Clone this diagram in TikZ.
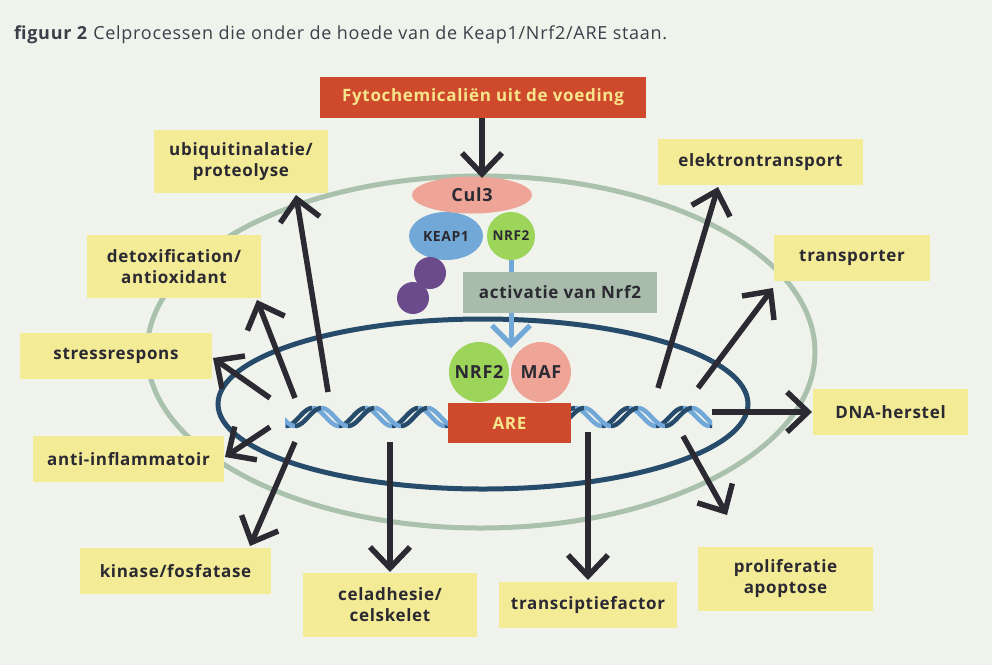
\documentclass[tikz,border=0pt]{standalone}
\usepackage{fontspec}
\setmainfont{Open Sans}[LetterSpace=4]
\usetikzlibrary{arrows.meta,shapes.geometric}
\definecolor{bg}{HTML}{F0F3EC}
\definecolor{ybox}{HTML}{F3EB96}
\definecolor{redbox}{HTML}{CF4A2D}
\definecolor{ytext}{HTML}{F6E58A}
\definecolor{outercol}{HTML}{A9C1AD}
\definecolor{navy}{HTML}{264B6B}
\definecolor{lblue}{HTML}{72A8D8}
\definecolor{salmon}{HTML}{EEA597}
\definecolor{lgreen}{HTML}{9DD45A}
\definecolor{purp}{HTML}{6B4B8C}
\definecolor{actbox}{HTML}{A9BCAB}
\definecolor{dk}{HTML}{2B2931}
\definecolor{titlecol}{HTML}{3E3E4A}
\begin{document}
\begin{tikzpicture}[x=1pt,y=-1pt,
  lbl/.style={font=\fontsize{17}{21}\selectfont\bfseries, text=dk, align=center, inner sep=0pt},
  ybx/.style={lbl, fill=ybox, minimum width=#1, minimum height=46pt},
  ybx/.default=180pt,
  arr/.style={draw=dk, line width=5.5pt, -{Straight Barb[sharp,length=21pt,width=40pt]}},
  blob/.style={inner sep=0pt, font=\fontsize{17}{20}\selectfont\bfseries, text=dk}]
\useasboundingbox (0,0) rectangle (992,665);
\fill[bg] (0,0) rectangle (992,665);
% title
\node[anchor=base west, inner sep=0pt, text=titlecol, font=\fontsize{18}{20}\selectfont] (title) at (14,39) {\textbf{figuur 2} Celprocessen die onder de hoede van de Keap1/Nrf2/ARE staan.};
% membranes
\draw[outercol, line width=5pt] (481,352) ellipse [x radius=334pt, y radius=176pt];
\draw[navy, line width=5pt] (483,404) ellipse [x radius=265pt, y radius=85pt];
% helix left
\begin{scope}
\clip (285,395) rectangle (448,440);
\foreach \s in {0,9}{
 \foreach \k in {-1,0,1,2,3}{
   \pgfmathsetmacro\xa{286+53*\k+\s}
   \pgfmathsetmacro\xb{\xa+26.5}
   \pgfmathsetmacro\xc{\xa+53}
   \draw[navy, line width=4.5pt] plot[domain=\xa:\xb, samples=16] (\x,{426-18*(sin(180*(\x-\xa)/53))^2});
   \draw[lblue, line width=4.5pt] plot[domain=\xb:\xc, samples=16] (\x,{426-18*(sin(180*(\x-\xa)/53))^2});
 }}
\end{scope}
% helix right
\begin{scope}
\clip (571,395) rectangle (712,440);
\foreach \s in {0,9}{
 \foreach \k in {-1,0,1,2,3}{
   \pgfmathsetmacro\xa{548+54*\k+\s}
   \pgfmathsetmacro\xb{\xa+27}
   \pgfmathsetmacro\xc{\xa+54}
   \draw[navy, line width=4.5pt] plot[domain=\xa:\xb, samples=16] (\x,{426-18*(sin(180*(\x-\xa)/54))^2});
   \draw[lblue, line width=4.5pt] plot[domain=\xb:\xc, samples=16] (\x,{426-18*(sin(180*(\x-\xa)/54))^2});
 }}
\end{scope}
% top complex
\node[blob, ellipse, fill=lblue, minimum width=74pt, minimum height=48pt, font=\fontsize{14}{15}\selectfont\bfseries] (keap) at (446,236) {KEAP1};
\node[blob, circle, fill=lgreen, minimum size=48pt, font=\fontsize{13.5}{15}\selectfont\bfseries] (nrfs) at (511,236) {NRF2};
\node[blob, ellipse, fill=salmon, minimum width=120pt, minimum height=37pt, font=\fontsize{18}{20}\selectfont\bfseries] (cul) at (472,195) {Cul3};
\node[circle, fill=purp, minimum size=32pt, inner sep=0pt] (pa) at (430,273) {};
\node[circle, fill=purp, minimum size=32pt, inner sep=0pt] (pb) at (413,298) {};
\coordinate (bluetip) at (511,348);
\draw[lblue, line width=5pt, -{Straight Barb[sharp,length=19pt,width=38pt]}] (nrfs.south) -- (bluetip);
\node[lbl, fill=actbox, minimum width=194pt, minimum height=41pt, font=\fontsize{17}{22}\selectfont\fontseries{sb}\selectfont] (act) at (560,292.5) {activatie van Nrf2};
\node[blob, circle, fill=lgreen, minimum size=60pt, font=\fontsize{18}{20}\selectfont\bfseries] (nrfb) at (479,372) {NRF2};
\node[blob, circle, fill=salmon, minimum size=60pt, font=\fontsize{18}{20}\selectfont\bfseries] (maf) at (541,372) {MAF};
\node[lbl, fill=redbox, text=ytext, minimum width=123pt, minimum height=40pt] (are) at (509.5,423) {ARE};
\node[lbl, fill=redbox, text=ytext, minimum width=326pt, minimum height=41pt] (fyto) at (483,97.5) {Fytochemicaliën uit de voeding};
% yellow boxes
\node[ybx=174pt, minimum height=63pt] (ubi) at (241,161.5) {ubiquitinalatie/\\proteolyse};
\node[ybx=174pt, minimum height=63pt] (detox) at (174,266.5) {detoxification/\\antioxidant};
\node[ybx=192pt] (stress) at (116,356) {stressrespons};
\node[ybx=191pt] (anti) at (128.5,459) {anti-inflammatoir};
\node[ybx=191pt] (kin) at (175.5,571) {kinase/fosfatase};
\node[ybx=174pt, minimum height=64pt] (cel) at (390,605) {celadhesie/\\celskelet};
\node[ybx=178pt] (trc) at (588,605) {transciptiefactor};
\node[ybx=175pt, minimum height=64pt] (prol) at (785.5,579) {proliferatie\\apoptose};
\node[ybx=205pt] (elek) at (760.5,162) {elektrontransport};
\node[ybx=156pt] (trp) at (852,258) {transporter};
\node[ybx=155pt] (dna) at (890.5,412) {DNA-herstel};
% arrow coordinates
\coordinate (cultop) at (482,178);
\coordinate (tU) at (328,392); \coordinate (eU) at (296,195);
\coordinate (tD) at (295,398); \coordinate (eD) at (257,300);
\coordinate (tS) at (270,398); \coordinate (eS) at (213,358);
\coordinate (tA) at (270,427); \coordinate (eA) at (225,457);
\coordinate (tK) at (295,442); \coordinate (eK) at (250,546);
\coordinate (tC) at (390,442); \coordinate (eC) at (390,572);
\coordinate (tT) at (588,432); \coordinate (eT) at (588,580);
\coordinate (tP) at (683,436); \coordinate (eP) at (727,515);
\coordinate (tN) at (712,412); \coordinate (eN) at (812,412);
\coordinate (tR) at (698,388); \coordinate (eR) at (773,288);
\coordinate (tE) at (658,388); \coordinate (eE) at (718,187);
\draw[arr] (fyto.south -| cultop) -- (cultop);
\draw[arr] (tU) -- (eU);
\draw[arr] (tD) -- (eD);
\draw[arr] (tS) -- (eS);
\draw[arr] (tA) -- (eA);
\draw[arr] (tK) -- (eK);
\draw[arr] (tC) -- (eC);
\draw[arr] (tT) -- (eT);
\draw[arr] (tP) -- (eP);
\draw[arr] (tN) -- (eN);
\draw[arr] (tR) -- (eR);
\draw[arr] (tE) -- (eE);
\end{tikzpicture}
\end{document}
